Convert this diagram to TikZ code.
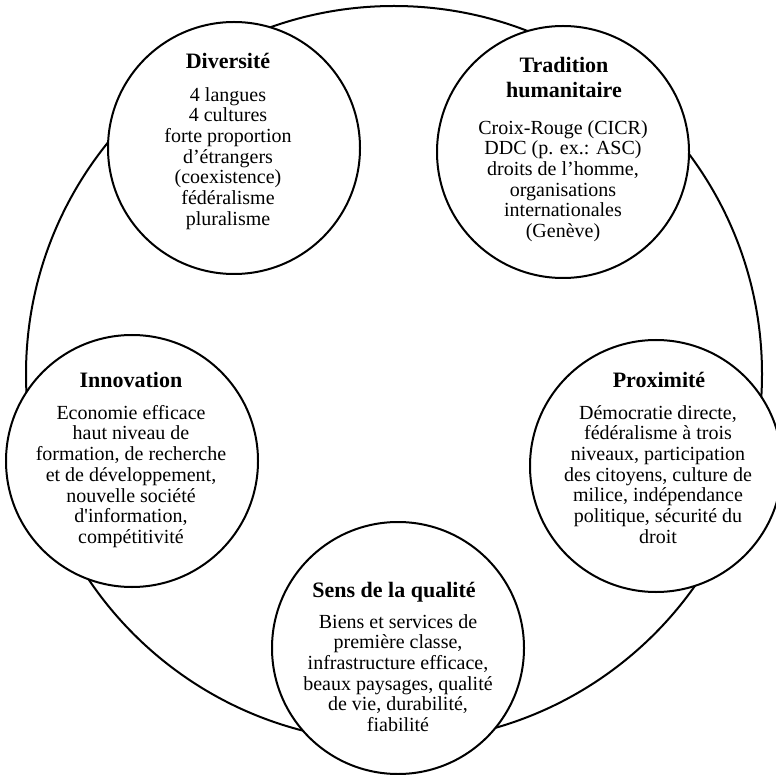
\documentclass[tikz,border=0pt]{standalone}
\usepackage{fontspec}
\setmainfont{Liberation Serif}
\usepackage{tikz}

\begin{document}
\begin{tikzpicture}[x=1pt,y=-1pt,
  bubble/.style={draw,circle,fill=white,line width=2pt,minimum size=252pt,inner sep=0pt},
  head/.style={font=\bfseries\fontsize{22}{25}\selectfont,align=center,anchor=north,inner sep=0pt,execute at begin node={\rule{0pt}{18pt}}},
  body/.style={font=\fontsize{20}{20.7}\selectfont,align=center,anchor=north,inner sep=0pt,execute at begin node={\rule{0pt}{19pt}}}]
\useasboundingbox (0,0) rectangle (776,775);
\draw[line width=2pt] (394,374) circle (368pt);
\node[bubble] (div) at (234,148) {};
\node[bubble] (trad) at (563,152) {};
\node[bubble] (inno) at (132,461) {};
\node[bubble] (prox) at (656,466) {};
\node[bubble] (sens) at (398,648) {};
\node[head] (divhead) at (228,50) {Diversité};
\node[body] (divbody) at (228,87) {4 langues\\4 cultures\\forte proportion\\d’étrangers\\(coexistence)\\fédéralisme\\pluralisme};
\node[head] (tradhead) at (564,57) {Tradition\\humanitaire};
\node[body] (tradbody) at (563,120) {Croix-Rouge (CICR)\\DDC (p. ex.: ASC)\\droits de l’homme,\\organisations\\internationales\\(Genève)};
\node[head] (innohead) at (131,369) {Innovation};
\node[body] (innobody) at (131,405) {Economie efficace\\haut niveau de\\formation, de recherche\\et de développement,\\nouvelle société\\d\textquotesingle information,\\compétitivité};
\node[head] (proxhead) at (659,369) {Proximité};
\node[body] (proxbody) at (658,405) {Démocratie directe,\\fédéralisme à trois\\niveaux, participation\\des citoyens, culture de\\milice, indépendance\\politique, sécurité du\\droit};
\node[head] (senshead) at (394,579) {Sens de la qualité};
\node[body] (sensbody) at (398,614) {Biens et services de\\première classe,\\infrastructure efficace,\\beaux paysages, qualité\\de vie, durabilité,\\fiabilité};
\end{tikzpicture}
\end{document}
